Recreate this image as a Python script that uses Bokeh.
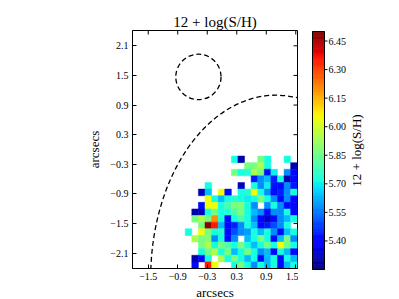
import numpy as np
from bokeh.plotting import figure
from bokeh.layouts import row
from bokeh.models import (LinearColorMapper, FixedTicker, Range1d, CustomJSTickFormatter,
                          ColumnDataSource)
from bokeh.core.properties import value
from bokeh.transform import transform
from bokeh.embed import file_html
from bokeh.resources import INLINE

# ---------------- data ----------------
title_text = "12 + log(S/H)"
x_label = "arcsecs"
y_label = "arcsecs"
cbar_label = "12 + log(S/H)"
x_ticks = [-1.5, -0.9, -0.3, 0.3, 0.9, 1.5]
y_ticks = [-2.1, -1.5, -0.9, -0.3, 0.3, 0.9, 1.5, 2.1]
cbar_ticks = [5.40, 5.55, 5.70, 5.85, 6.00, 6.15, 6.30, 6.45]
value_low, value_high = 5.25, 6.50
x_min, x_max = -1.82, 1.535
y_min, y_max = -2.41, 2.41

# spaxel grid (imshow-like): left / bottom edge and spaxel size, arcsec
grid_x0 = -0.748
grid_y0 = -2.41
spaxel = 0.134

N = None
# rows from top to bottom, columns from left to right
sh_map = [
    [N, N, N, N, N, N, N, 5.72, 5.30, N, N, 5.87, 5.72, N, N, 5.72, N],
    [N, N, N, N, N, N, N, N, N, 5.87, 5.87, 5.95, 5.72, N, N, N, 5.30],
    [N, N, N, N, N, N, N, 5.87, 5.72, 5.74, 5.95, 5.87, 5.42, 5.70, N, 5.58, 5.42],
    [N, N, N, N, N, N, N, N, N, N, 5.44, 5.58, 5.64, 5.45, 5.72, 5.30, 5.42],
    [N, N, N, 5.72, N, N, N, N, 5.32, N, 5.72, 5.58, 5.70, 5.43, 5.42, 5.58, 5.44],
    [N, N, 5.32, 5.64, N, 6.05, 5.42, N, 5.72, 5.74, 6.05, 5.72, 5.58, 5.42, 5.45, 5.58, 5.72],
    [N, N, N, 6.05, 5.72, 5.64, 5.72, 5.75, 5.72, 5.70, 5.72, 5.87, 5.72, 5.58, 5.42, 5.58, 5.42],
    [N, N, 5.42, 6.05, 6.05, 5.72, 5.80, 5.87, 5.88, 5.72, 5.58, N, 5.58, 5.72, 5.58, 5.42, 5.42],
    [N, 5.30, 5.32, 5.72, 5.87, 5.72, 5.74, 5.80, 5.87, 5.72, 5.64, 5.58, 5.42, 5.58, 5.58, 5.72, 5.42],
    [N, 5.87, 5.95, 5.87, 6.20, 5.72, 5.42, 5.72, 5.80, 5.72, 5.58, 5.42, 5.32, 5.42, 5.58, 5.64, 5.72],
    [N, N, 5.87, 6.48, 6.35, 5.64, 5.42, 5.45, 5.58, 5.72, 5.64, 5.42, 5.44, 5.50, 5.58, 5.72, N],
    [5.72, N, 6.05, 5.87, 5.72, 5.74, 5.42, 5.50, 5.58, 5.60, 5.72, 5.64, 5.72, 5.58, 5.42, 5.64, 5.72],
    [N, 5.95, 5.87, 5.88, 5.58, 5.72, 5.42, 5.58, N, 5.64, 5.72, 5.87, 5.72, 5.42, 5.64, 5.87, 5.58],
    [N, N, 5.87, 5.95, 5.72, 5.87, 5.80, 5.72, 5.87, 5.72, 5.64, 5.72, 5.87, 5.72, 6.05, 5.87, 5.72],
    [N, N, 5.72, 5.87, 5.95, 5.72, 5.87, 5.64, 5.72, 5.87, 5.72, 5.58, 5.64, 5.42, 5.72, 5.64, 5.42],
    [N, 5.30, 5.42, 5.72, N, 5.95, 5.72, 5.87, 5.72, 5.64, 5.72, 5.42, 5.64, 5.72, 5.42, 5.72, 5.64],
    [N, 5.42, N, 6.35, 6.05, N, N, 5.72, 5.87, 5.72, 5.58, 5.72, 5.64, 5.72, 5.42, 5.64, 5.72],
]

# dashed apertures: small circle and large ellipse (centre x, centre y, width, height)
aperture_x = [-0.48, 1.10]
aperture_y = [1.47, -2.60]
aperture_w = [0.92, 5.10]
aperture_h = [0.92, 7.40]

# ---------------- build ----------------
n_rows = len(sh_map)
xs, ys, vs = [], [], []
for r, row_vals in enumerate(sh_map):
    for c, v in enumerate(row_vals):
        if v is None:
            continue
        xs.append(grid_x0 + spaxel * (c + 0.5))
        ys.append(grid_y0 + spaxel * (n_rows - 1 - r + 0.5))
        vs.append(v)

# matplotlib 'jet' colormap
t = np.linspace(0, 1, 256)
red = np.interp(t, [0, 0.35, 0.66, 0.89, 1.0], [0, 0, 1, 1, 0.5])
green = np.interp(t, [0, 0.125, 0.375, 0.64, 0.91, 1.0], [0, 0, 1, 1, 0, 0])
blue = np.interp(t, [0, 0.11, 0.34, 0.65, 1.0], [0.5, 1, 1, 0, 0])
jet = ["#%02x%02x%02x" % (int(round(r_ * 255)), int(round(g_ * 255)), int(round(b_ * 255)))
       for r_, g_, b_ in zip(red, green, blue)]

mapper = LinearColorMapper(palette=jet, low=value_low, high=value_high)

FONT = "Liberation Serif"

# ---------------- main map ----------------
p = figure(x_range=Range1d(x_min, x_max), y_range=Range1d(y_min, y_max),
           width=298, height=299, frame_width=165, frame_height=238,
           min_border_left=132, min_border_right=1, min_border_top=30, min_border_bottom=31,
           output_backend="svg", toolbar_location=None, title=title_text)
p.background_fill_color = "white"
p.border_fill_color = "white"
p.outline_line_color = "black"
p.outline_line_width = 1
p.grid.visible = False

p.title.text_font = FONT
p.title.text_font_size = "15px"
p.title.text_font_style = "normal"
p.title.text_color = "black"
p.title.align = "center"
p.title.text_line_height = 1.75
p.title.standoff = 1

fmt = CustomJSTickFormatter(code="return tick.toFixed(1).replace('-', '\\u2212');")

for ax, ticks in ((p.xaxis[0], x_ticks), (p.yaxis[0], y_ticks)):
    ax.ticker = FixedTicker(ticks=ticks)
    ax.formatter = fmt
    ax.major_tick_in = 4
    ax.major_tick_out = 0
    ax.minor_tick_line_color = None
    ax.axis_line_color = "black"
    ax.major_tick_line_color = "black"
    ax.major_label_text_font = FONT
    ax.major_label_text_font_size = "10px"
    ax.major_label_text_color = "black"
    ax.axis_label_text_font = FONT
    ax.axis_label_text_font_size = "13px"
    ax.axis_label_text_font_style = "normal"
    ax.axis_label_text_color = "black"

p.xaxis.axis_label = x_label
p.yaxis.axis_label = y_label
p.xaxis.major_label_standoff = 4
p.xaxis.axis_label_standoff = 2
p.yaxis.major_label_standoff = 4
p.yaxis.axis_label_standoff = 5

# mirrored inward ticks on top and right edges
p.ray(x=x_ticks, y=[y_max] * len(x_ticks), length=4, length_units="screen",
      angle=-np.pi / 2, line_color="black", line_width=1)
p.ray(x=[x_max] * len(y_ticks), y=y_ticks, length=4, length_units="screen",
      angle=np.pi, line_color="black", line_width=1)

src = ColumnDataSource(dict(x=xs, y=ys, v=vs))
p.rect("x", "y", width=spaxel, height=spaxel, source=src,
       fill_color=transform("v", mapper), line_color=transform("v", mapper), line_width=0.5)

p.ellipse(x=aperture_x, y=aperture_y, width=aperture_w, height=aperture_h,
          fill_color=None, line_color="black", line_width=1.3, line_dash="5 3")

# ---------------- colour bar panel (x in pixels from bar's left edge) ----------------
bar_w = 12
pad_v = (value_high - value_low) / 238.0
cb = figure(x_range=Range1d(-1, 57), y_range=Range1d(value_low - pad_v, value_high + pad_v),
            width=101, height=299, frame_width=58, frame_height=240,
            min_border_left=13, min_border_right=30, min_border_top=29, min_border_bottom=30,
            output_backend="svg", toolbar_location=None,
            x_axis_location=None, y_axis_location=None)
cb.outline_line_color = None
cb.grid.visible = False
cb.background_fill_color = "white"
cb.border_fill_color = "white"

levels = np.linspace(value_low, value_high, len(jet) + 1)
cb.quad(left=0, right=bar_w, bottom=levels[:-1], top=levels[1:],
        fill_color=jet, line_color=jet, line_width=0.6)
cb.quad(left=[0], right=[bar_w], bottom=[value_low], top=[value_high],
        fill_color=None, line_color="black", line_width=1)
cb.segment(x0=[bar_w] * len(cbar_ticks), y0=cbar_ticks, x1=[bar_w + 3] * len(cbar_ticks),
           y1=cbar_ticks, line_color="black", line_width=1)
cb.text(x=[bar_w + 4] * len(cbar_ticks), y=cbar_ticks, text=["%.2f" % v for v in cbar_ticks],
        text_font=value(FONT), text_font_size="10px", text_baseline="middle",
        text_align="left", text_color="black")
cb.text(x=[44], y=[(value_low + value_high) / 2], text=[cbar_label], angle=np.pi / 2,
        text_font=value(FONT), text_font_size="13px", text_baseline="middle",
        text_align="center", text_color="black")

layout = row(p, cb, spacing=0)

open("out.html", "w").write(file_html(layout, INLINE))
